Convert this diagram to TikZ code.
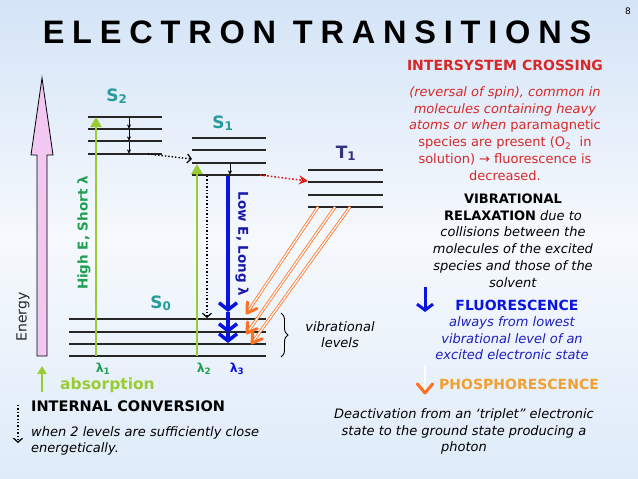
\documentclass[tikz,border=0pt]{standalone}
\usepackage{fontspec}
\setmainfont{DejaVu Sans}
\newfontfamily\titlefont{Liberation Sans}[LetterSpace=24]
\usetikzlibrary{arrows.meta,decorations.pathreplacing,calc}
\definecolor{bgtop}{RGB}{212,228,247}
\definecolor{bgmid}{RGB}{246,249,253}
\definecolor{bgbot}{RGB}{222,235,249}
\definecolor{stC}{RGB}{38,155,155}
\definecolor{tC}{RGB}{50,50,130}
\definecolor{absG}{RGB}{153,204,51}
\definecolor{hiG}{RGB}{30,160,80}
\definecolor{fluoB}{RGB}{10,20,225}
\definecolor{loB}{RGB}{25,25,170}
\definecolor{txtB}{RGB}{30,30,190}
\definecolor{phO}{RGB}{255,112,32}
\definecolor{phT}{RGB}{240,160,48}
\definecolor{iscR}{RGB}{225,30,30}
\definecolor{redT}{RGB}{215,40,40}
\definecolor{pinkF}{RGB}{242,200,242}
\newcommand\myfs[2]{\fontsize{#1}{#2}\selectfont}
\begin{document}
\begin{tikzpicture}[x=1pt,y=-1pt,
  lvl/.style={draw=black!85,line width=1.1pt},
  absarr/.style={draw=absG,line width=2.5pt,-{Triangle[length=10pt,width=11pt]}},
  icarr/.style={draw=black,line width=1.4pt,dotted,-{Straight Barb[length=4pt,width=9pt,line width=1.2pt]}},
  iscarr/.style={draw=iscR,line width=1.6pt,dotted,-{Stealth[length=9pt,width=9pt]}},
  smallarr/.style={draw=black,line width=0.6pt,-{Stealth[length=4pt,width=4pt]}},
  fluoarr/.style={draw=fluoB,line width=4pt,-{Straight Barb[length=7pt,width=18pt,line width=3.5pt]}},
  phshaft/.style={draw=phO,double=white,double distance=1.3pt,line width=0.8pt},
  phhead/.style={draw=phO,line width=3pt,line cap=round,line join=round},
  lab/.style={inner sep=0pt,font=\myfs{17}{20}\bfseries},
  body/.style={inner sep=0pt,font=\myfs{13}{16.8},align=center,anchor=north},
  head/.style={inner sep=0pt,font=\myfs{14}{17}\bfseries,anchor=base},
  lam/.style={inner sep=0pt,font=\myfs{12.5}{15}\bfseries,anchor=base}
]
\shade[top color=bgtop,bottom color=bgbot,middle color=bgmid] (0,0) rectangle (638,479);
\useasboundingbox (0,0) rectangle (638,479);

% title
\node[inner sep=0pt,anchor=base,font=\titlefont\fontsize{32.5}{36}\selectfont\bfseries] (title) at (317,43) {ELECTRON TRANSITIONS};
\node[inner sep=0pt,anchor=base,font=\myfs{9}{10}] (pg) at (628,15) {8};

% energy arrow
\filldraw[fill=pinkF,draw=black,line width=0.8pt] (37,356) -- (37,155) -- (31,155) -- (42,78) -- (53,155) -- (47,155) -- (47,356) -- cycle;
\node[inner sep=0pt,rotate=90,font=\myfs{14}{16},text=black!85] (energy) at (23,317) {Energy};

% levels
\foreach \y in {117,129,141,154} \draw[lvl] (88,\y) -- (162,\y);
\foreach \y in {138,150,163,175} \draw[lvl] (192,\y) -- (266,\y);
\foreach \y in {170,182,195,207} \draw[lvl] (308,\y) -- (383,\y);
\foreach \y in {319,332,344,356} \draw[lvl] (69,\y) -- (266,\y);

% state labels
\node[lab,text=stC,anchor=base] (S2) at (117,101) {S\textsubscript{2}};
\node[lab,text=stC,anchor=base] (S1) at (223,128) {S\textsubscript{1}};
\node[lab,text=tC,anchor=base] (T1) at (346,158) {T\textsubscript{1}};
\node[lab,text=stC,anchor=base] (S0) at (161,308) {S\textsubscript{0}};

% coordinates
\coordinate (a1s) at (96,356); \coordinate (a1e) at (96,117);
\coordinate (a2s) at (197,356); \coordinate (a2e) at (197,164);
\coordinate (ics) at (148,154); \coordinate (ice) at (192,159);
\coordinate (ic2s) at (207,176); \coordinate (ic2e) at (207,318);
\coordinate (iss) at (260,175); \coordinate (ise) at (308,181);
\coordinate (fs) at (228,176); \coordinate (f1) at (228,312); \coordinate (f2) at (228,333); \coordinate (f3) at (228,343);
\coordinate (p1s) at (318,207); \coordinate (p1e) at (247,313);
\coordinate (p2s) at (335,207); \coordinate (p2e) at (247,333);
\coordinate (p3s) at (350,207); \coordinate (p3e) at (252,343);

% absorption
\draw[absarr] (a1s) -- (a1e);
\draw[absarr] (a2s) -- (a2e);
\node[inner sep=0pt,rotate=90,font=\myfs{13.5}{15}\bfseries,text=hiG] (hiE) at (84,233) {High E, Short λ};

% small relaxation arrows
\draw[smallarr] (129,118) -- (129,128.5);
\draw[smallarr] (129,130) -- (129,140.5);
\draw[smallarr] (129,142) -- (129,153.5);
\draw[smallarr] (230,164) -- (230,174.5);

% internal conversions
\draw[icarr] (ics) -- (ice);
\draw[icarr] (ic2s) -- (ic2e);
% intersystem crossing
\draw[iscarr] (iss) -- (ise);

% fluorescence
\draw[fluoarr] (fs) -- (f1);
\draw[fluoarr] (f1) -- (f2);
\draw[fluoarr] (f2) -- (f3);
\node[inner sep=0pt,rotate=-90,font=\myfs{13.5}{15}\bfseries,text=loB] (loE) at (242,244) {Low E, Long λ};

% phosphorescence
\foreach \s/\e in {p1s/p1e,p2s/p2e,p3s/p3e}{
  \draw[phshaft] (\s) -- (\e);
  \draw[phhead] ($(\e)!11pt!32:(\s)$) -- (\e) -- ($(\e)!11pt!-32:(\s)$);
}

% brace
\draw[decorate,decoration={brace,amplitude=7pt},line width=0.9pt] (281,313) -- (281,357);
\node[body,font=\myfs{13}{16.5}\itshape] (vib) at (340,331-11.6) {\strut vibrational\\levels};

% lambdas
\node[lam,text=hiG] (l1) at (103,372) {λ\textsubscript{1}};
\node[lam,text=hiG] (l2) at (204,372) {λ\textsubscript{2}};
\node[lam,text=fluoB] (l3) at (237,372) {λ\textsubscript{3}};

% absorption legend
\coordinate (la1) at (42,392); \coordinate (la2) at (42,366);
\draw[absarr,line width=2.2pt,-{Triangle[length=8pt,width=9pt]}] (la1) -- (la2);
\node[inner sep=0pt,anchor=base west,font=\myfs{15.5}{18}\bfseries,text=absG] (absl) at (60,389) {absorption};

% internal conversion legend
\coordinate (li1) at (18,405); \coordinate (li2) at (18,443);
\draw[icarr] (li1) -- (li2);
\node[head,anchor=base west,font=\myfs{14.5}{17}\bfseries] (icl) at (31,411) {INTERNAL CONVERSION};
\node[body,anchor=north west,align=left,font=\myfs{13}{16.5}\itshape] (ict) at (31,436-11.6) {\strut when 2 levels are sufficiently close\\energetically.};

% intersystem crossing text
\node[head,text=redT] (iscl) at (505,70) {INTERSYSTEM CROSSING};
\node[body,text=redT] (isct) at (505,96-11.76) {\strut\emph{(reversal of spin), common in}\\\emph{molecules containing heavy}\\\emph{atoms or when} paramagnetic\\species are present (O\textsubscript{2}\ \ in\\solution) → fluorescence is\\decreased.};

% vibrational relaxation
\node[body] (vrt) at (513,203-11.76) {\strut\textbf{VIBRATIONAL}\\\textbf{RELAXATION} \emph{due to}\\\emph{collisions between the}\\\emph{molecules of the excited}\\\emph{species and those of the}\\\emph{solvent}};

% fluorescence legend
\coordinate (lf1) at (425,287); \coordinate (lf2) at (425,312);
\draw[fluoarr,line width=3pt,-{Straight Barb[length=6pt,width=16pt,line width=3pt]}] (lf1) -- (lf2);
\node[head,text=fluoB] (fll) at (517,310) {FLUORESCENCE};
\node[body,text=txtB,font=\myfs{13}{16.8}\itshape] (flt) at (512,326-11.76) {\strut always from lowest\\vibrational level of an\\excited electronic state};

% phosphorescence legend
\coordinate (lp1) at (425,365); \coordinate (lp2) at (425,393);
\draw[phshaft] (lp1) -- (lp2);
\draw[phhead] ($(lp2)!12pt!40:(lp1)$) -- (lp2) -- ($(lp2)!12pt!-40:(lp1)$);
\node[head,anchor=base west,text=phT] (phl) at (439,389) {PHOSPHORESCENCE};
\node[body,font=\myfs{13}{16.8}\itshape] (pht) at (464,418-11.76) {\strut Deactivation from an ‘triplet” electronic\\state to the ground state producing a\\photon};
\end{tikzpicture}
\end{document}
